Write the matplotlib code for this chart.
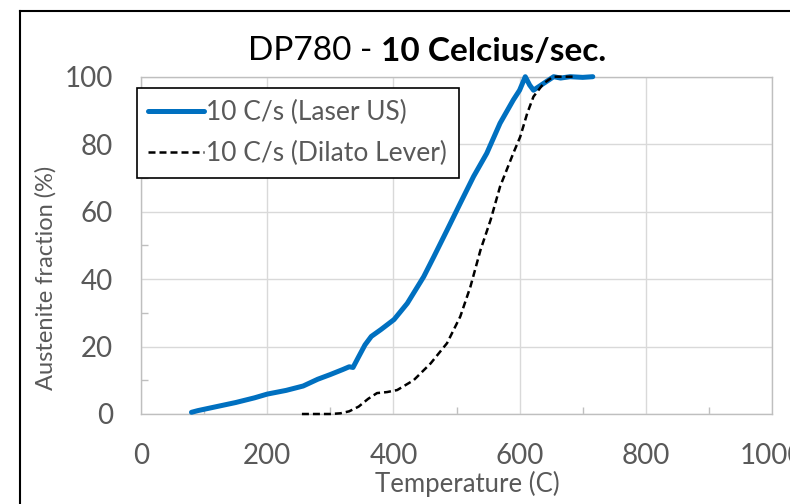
import matplotlib
matplotlib.use("Agg")
import matplotlib.pyplot as plt
from matplotlib.ticker import MultipleLocator
from matplotlib.lines import Line2D

# ---- data ----
laser_T = [80, 90, 100, 120, 150, 180, 200, 230, 257, 280, 300, 320, 330, 336,
           345, 355, 365, 380, 401, 422, 448, 464, 485, 506, 527, 548, 569, 590,
           600, 609, 616, 622, 630, 638, 646, 654, 665, 680, 700, 716]
laser_y = [0.5, 1.0, 1.4, 2.2, 3.4, 4.8, 5.9, 7.0, 8.3, 10.3, 11.7, 13.2, 14.0, 13.8,
           17.0, 20.5, 23.0, 25.0, 28.0, 32.8, 40.7, 46.6, 54.5, 62.5, 70.4, 77.3, 86.2, 93.1,
           96.0, 100.0, 97.5, 96.0, 97.0, 98.0, 99.0, 100.0, 99.6, 100.0, 99.8, 100.0]

dilato_T = [255, 280, 300, 316, 330, 345, 360, 374, 390, 406, 432, 459, 485, 506,
            522, 538, 554, 569, 590, 601, 612, 622, 638, 653, 670, 690]
dilato_y = [0.0, 0.0, 0.0, 0.2, 0.8, 2.2, 4.5, 6.2, 6.5, 7.1, 10.0, 15.0, 21.0, 28.9,
            37.7, 48.6, 57.5, 67.4, 77.3, 82.2, 89.1, 94.1, 98.0, 100.0, 100.0, 100.0]

x_ticks = [0, 200, 400, 600, 800, 1000]
y_ticks = [0, 20, 40, 60, 80, 100]
label_laser = "10 C/s (Laser US)"
label_dilato = "10 C/s (Dilato Lever)"

FONT = "Lato"
GREY = "#595959"
GRID = "#d9d9d9"
BLUE = "#0070c0"

fig = plt.figure(figsize=(7.9, 5.04), dpi=100)
ax = fig.add_axes([141/790, 1-414/504, 631/790, 337.3/504])

ax.plot(laser_T, laser_y, color=BLUE, lw=3.6, solid_capstyle="round",
        clip_on=False, label=label_laser, zorder=3)
ax.plot(dilato_T, dilato_y, color="black", lw=1.8, ls=(0, (2.8, 1.6)),
        clip_on=False, label=label_dilato, zorder=4)

ax.set_xlim(0, 1000)
ax.set_ylim(0, 100)
ax.set_xticks(x_ticks)
ax.set_yticks(y_ticks)
ax.xaxis.set_minor_locator(MultipleLocator(100))
ax.yaxis.set_minor_locator(MultipleLocator(10))
ax.grid(True, which="major", color=GRID, lw=1.0, zorder=0)
ax.tick_params(which="major", length=0, labelsize=20, labelcolor=GREY)
ax.tick_params(axis="y", which="major", pad=20)
ax.tick_params(axis="x", which="major", pad=21)
ax.tick_params(which="minor", direction="in", length=5, color="#bfbfbf", width=1)
for lab in ax.get_xticklabels() + ax.get_yticklabels():
    lab.set_fontfamily(FONT)
for s in ax.spines.values():
    s.set_color("#bfbfbf")
    s.set_linewidth(1.0)

ax.set_xlabel("Temperature (C)", fontsize=18.5, color=GREY, family=FONT)
ax.xaxis.set_label_coords(0.517, -0.168)
ax.set_ylabel("Austenite fraction (%)", fontsize=17, color=GREY, family=FONT)
ax.yaxis.set_label_coords(-0.133, 0.405)

leg = ax.legend(loc="upper left", bbox_to_anchor=(-0.007, 0.966), borderaxespad=0,
                fancybox=False, frameon=True, handlelength=2.1, handletextpad=0.08,
                borderpad=0.45, labelspacing=0.6,
                prop={"family": FONT, "size": 19})
leg.get_frame().set_edgecolor("black")
leg.get_frame().set_linewidth(1.2)
leg.get_frame().set_facecolor("white")
leg.get_frame().set_alpha(1)
for t in leg.get_texts():
    t.set_color(GREY)

# title: normal + bold parts
t1 = fig.text(248/790, 1-60/504, "DP780 - ", fontsize=24, family=FONT,
              color="black", ha="left", va="baseline")
fig.canvas.draw()
ax.annotate("10 Celcius/sec.", xy=(1, 0), xycoords=t1, fontsize=24, family=FONT,
            fontweight="bold", color="black", ha="left", va="bottom",
            annotation_clip=False)

# outer black frame (partially visible)
fig.add_artist(Line2D([20/790, 20/790], [0, 1-11/504], transform=fig.transFigure,
                      color="black", lw=1.5))
fig.add_artist(Line2D([20/790, 1], [1-11/504, 1-11/504], transform=fig.transFigure,
                      color="black", lw=1.5))

fig.savefig("out.png", dpi=100)
